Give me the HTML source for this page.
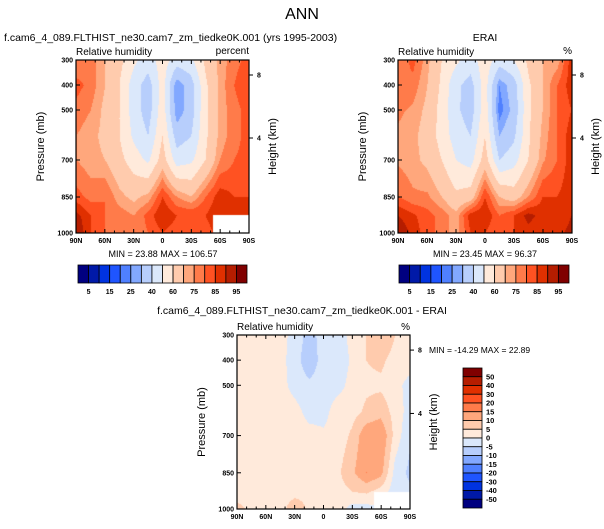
<!DOCTYPE html>
<html><head><meta charset="utf-8"><style>
body{margin:0;background:#fff;width:604px;height:529px;position:relative;overflow:hidden;font-family:"Liberation Sans",sans-serif}
svg{position:absolute;left:0;top:0}
canvas{position:absolute}
</style></head><body>
<canvas id="c1" width="173" height="173" style="left:76px;top:60px"></canvas>
<canvas id="c2" width="174" height="173" style="left:398px;top:60px"></canvas>
<canvas id="c3" width="173" height="174" style="left:237px;top:335px"></canvas>
<svg id="s" width="604" height="529"></svg>
<script>
const lats=["90N","75N","60N","45N","30N","15N","0","15S","30S","45S","60S","75S","90S"];
const pressures=[300,400,500,600,700,850,925,1000];
const rowFrac=[0,25/173,50/173,76/173,100/173,137/173,156/173,1];
const modelRH=[
[75,78,70,63,52,45,55,45,48,62,72,78,82],
[82,78,70,60,45,35,55,25,35,58,72,80,85],
[78,75,68,60,45,35,56,25,35,58,72,78,82],
[75,72,68,60,48,40,60,35,40,58,72,78,82],
[75,72,70,63,55,48,65,45,48,60,75,80,82],
[82,78,80,72,68,72,85,75,70,80,88,85,85],
[92,85,80,78,75,82,90,85,85,85,90,88,85],
[95,85,80,78,76,80,85,82,82,82,88,85,85]];
const eraiRH=[
[75,82,72,60,52,45,56,45,50,62,70,72,88],
[80,78,70,58,42,36,55,25,35,58,70,80,88],
[76,74,68,56,42,35,56,22,33,58,70,80,85],
[74,72,66,56,45,40,60,30,38,58,72,80,88],
[74,72,68,60,50,46,65,40,46,60,74,80,88],
[80,76,76,70,62,65,85,70,65,75,85,85,88],
[90,86,82,78,72,88,90,80,85,92,88,85,90],
[95,88,82,78,72,85,85,80,85,88,85,88,92]];
const diffRH=[
[3,4,3,2,-2,-7,-3,-3,2,5,10,5,3],
[3,3,3,2,-3,-8,-3,-4,1,5,6,3,3],
[3,3,3,2,-2,-4,-3,-2,2,4,4,2,-2],
[3,3,2,3,2,-2,-2,3,3,6,8,3,-2],
[3,4,4,4,3,2,1,2,6,14,15,3,-4],
[3,4,3,3,4,3,3,4,9,15,12,-2,-6],
[3,4,3,3,3,4,3,3,5,6,3,-3,-4],
[6,4,3,3,8,4,3,3,-2,-2,0,-2,-2]];
const rhLevels=[5,10,15,20,25,30,40,50,60,70,75,80,85,90,95];
const rhLabels=["5","15","25","40","60","75","85","95"];
const diffLevels=[-50,-40,-30,-20,-15,-10,-5,0,5,10,15,20,30,40,50];
const diffLabels=["50","40","30","20","15","10","5","0","-5","-10","-15","-20","-30","-40","-50"];
const colors=["#000080","#0019a8","#0033e0","#1f55ff","#4f80ff","#82a8ff","#b7cefc","#dbe8fb","#ffeadb","#ffcbad","#ffa77c","#ff7b4a","#ff5222","#e03000","#b51d00","#800000"];
const xTicks=["90N","60N","30N","0","30S","60S","90S"];

function hex(h){return [parseInt(h.substr(1,2),16),parseInt(h.substr(3,2),16),parseInt(h.substr(5,2),16)]}
const rgb=colors.map(hex);
function draw(id,grid,levels,hole){
  const cv=document.getElementById(id),ctx=cv.getContext('2d'),W=cv.width,H=cv.height;
  const img=ctx.createImageData(W,H);
  for(let y=0;y<H;y++){
    const f=y/(H-1);let r=0;while(r<rowFrac.length-2&&f>rowFrac[r+1])r++;
    const ty=(f-rowFrac[r])/(rowFrac[r+1]-rowFrac[r]);
    for(let x=0;x<W;x++){
      const gx=x/(W-1)*(lats.length-1);let c=Math.min(Math.floor(gx),lats.length-2);const tx=gx-c;
      const v=(grid[r][c]*(1-tx)+grid[r][c+1]*tx)*(1-ty)+(grid[r+1][c]*(1-tx)+grid[r+1][c+1]*tx)*ty;
      let k=0;while(k<levels.length&&v>=levels[k])k++;
      const col=rgb[k],i=(y*W+x)*4;img.data[i]=col[0];img.data[i+1]=col[1];img.data[i+2]=col[2];img.data[i+3]=255;
    }
  }
  ctx.putImageData(img,0,0);
  if(hole){ctx.fillStyle='#fff';ctx.fillRect(hole[0],hole[1],hole[2],hole[3]);}
}
draw('c1',modelRH,rhLevels,[137,155,36,18]);
draw('c2',eraiRH,rhLevels,null);
draw('c3',diffRH,diffLevels,[137,157,36,17]);

const s=document.getElementById('s');const NS='http://www.w3.org/2000/svg';
function el(t,a,txt){const e=document.createElementNS(NS,t);for(const k in a)e.setAttribute(k,a[k]);if(txt!==undefined)e.textContent=txt;s.appendChild(e);return e;}
function frame(x0,y0,w,h,nameP){
  const r=el('rect',{x:x0,y:y0,width:w,height:h,fill:'none',stroke:'#000','stroke-width':1.2});
  
  const pts=[[300,0],[400,25],[500,50],[700,100],[850,137],[1000,173]];
  pts.forEach(p=>{const y=y0+p[1]*h/173;
    el('line',{x1:x0,x2:x0+4,y1:y,y2:y,stroke:'#000'});
    const t=el('text',{x:x0-3,y:y+2.5,'font-size':7,'font-weight':'bold','text-anchor':'end'},p[0]);
    });
  for(let i=0;i<=18;i++){const x=x0+i*w/18,l=i%3==0?4:2.5;
    el('line',{x1:x,x2:x,y1:y0+h,y2:y0+h-l,stroke:'#000'});el('line',{x1:x,x2:x,y1:y0,y2:y0+l,stroke:'#000'});}
  xTicks.forEach((lb,i)=>{const t=el('text',{x:x0+i*w/6,y:y0+h+10,'font-size':7,'font-weight':'bold','text-anchor':'middle'},lb);
    });
  [[8,15],[4,78]].forEach(p=>{const y=y0+p[1]*h/173;el('line',{x1:x0+w,x2:x0+w+4,y1:y,y2:y,stroke:'#000'});
    el('text',{x:x0+w+8,y:y+2.5,'font-size':7,'font-weight':'bold'},p[0]);});
  const yt=el('text',{x:0,y:0,'font-size':11,'text-anchor':'middle',transform:`translate(${x0-32},${y0+h/2}) rotate(-90)`},'Pressure (mb)');
  
  const ht=el('text',{x:0,y:0,'font-size':11,'text-anchor':'middle',transform:`translate(${x0+w+27},${y0+h/2}) rotate(-90)`},'Height (km)');
  
  const rh=el('text',{x:x0,y:y0-5,'font-size':10},'Relative humidity');
  
}
frame(76,60,173,173,'model');frame(398,60,174,173,'erai');frame(237,335,173,174,'diff');
function txt(x,y,sz,t,anchor,name){const e=el('text',{x:x,y:y,'font-size':sz,'text-anchor':anchor||'start'},t);
  return e;}
txt(302,19,16,'ANN','middle','main-title');
txt(4,41,10.5,'f.cam6_4_089.FLTHIST_ne30.cam7_zm_tiedke0K.001 (yrs 1995-2003)','start','model-title');
txt(485,41,10.5,'ERAI','middle','erai-title');
txt(249,54,10,'percent','end','model-units');
txt(572,54,10,'%','end','erai-units');
txt(410,330,10,'%','end','diff-units');
txt(302,314,10.5,'f.cam6_4_089.FLTHIST_ne30.cam7_zm_tiedke0K.001 - ERAI','middle','diff-title');
txt(163,257,9,'MIN =  23.88   MAX = 106.57','middle','model-min-max');
txt(485,257,9,'MIN =  23.45   MAX = 96.37','middle','erai-min-max');
txt(429,353,8.5,'MIN = -14.29  MAX =  22.89','start','diff-min-max');
function hbar(x0,w,name){const bw=w/16;
  colors.forEach((c,i)=>{const r=el('rect',{x:x0+i*bw,y:265,width:bw,height:18,fill:c,stroke:'#000','stroke-width':0.8});
    });
  rhLabels.forEach((l,i)=>{const t=el('text',{x:x0+(2*i+1)*bw,y:294,'font-size':7,'font-weight':'bold','text-anchor':'middle'},l);
    });}
hbar(78,169,'model-colorbar');hbar(399,170,'erai-colorbar');
const bh=140/16;
colors.slice().reverse().forEach((c,i)=>{const r=el('rect',{x:463,y:368+i*bh,width:19,height:bh,fill:c,stroke:'#000','stroke-width':0.8});
  });
diffLabels.forEach((l,i)=>{const t=el('text',{x:486,y:368+(i+1)*bh+2.5,'font-size':7.5,'font-weight':'bold'},l);
  });
</script>
</body></html>
